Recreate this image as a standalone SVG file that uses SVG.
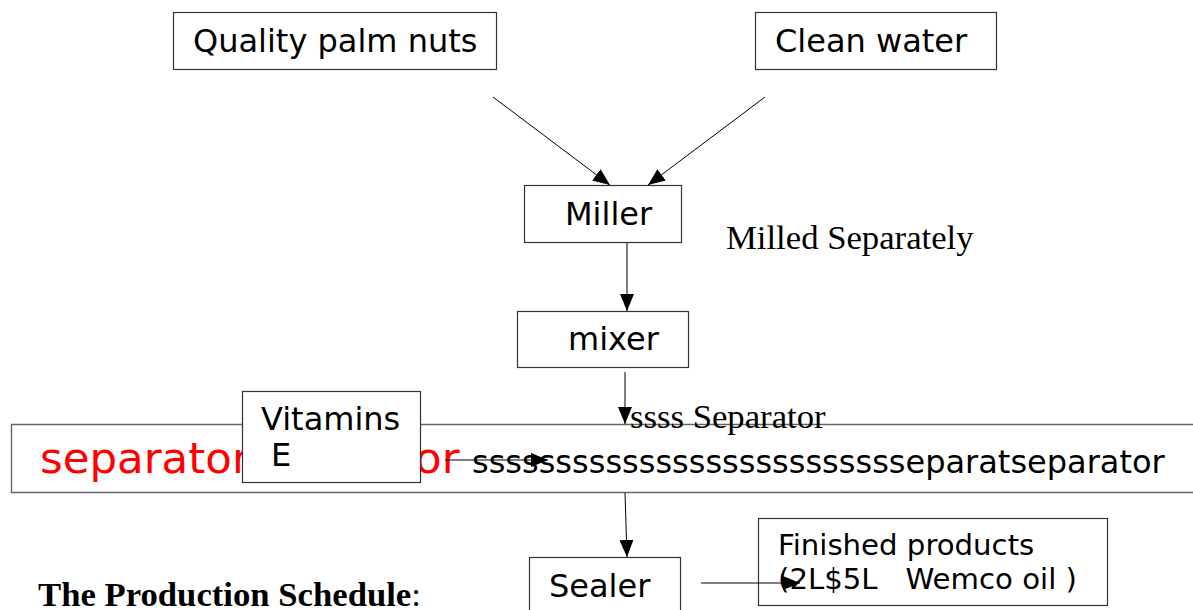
<svg xmlns="http://www.w3.org/2000/svg" width="1193" height="610" viewBox="0 0 1193 610">
<defs>
<style>
.box{fill:#fff;stroke:#333;stroke-width:1.2}
.band{fill:none;stroke:#666;stroke-width:1.4}
.sans{font-family:"DejaVu Sans",sans-serif;font-size:32px;fill:#000}
.serif{font-family:"Liberation Serif",serif;font-size:34.7px;fill:#000}
.red{font-family:"DejaVu Sans",sans-serif;font-size:43.5px;fill:#ff0000}
.conn line{stroke:#000;stroke-width:1;marker-end:url(#ah)}
</style>
<marker id="ah" markerUnits="userSpaceOnUse" markerWidth="18" markerHeight="14" refX="17" refY="7" orient="auto">
<path d="M0,0 L17,7 L0,14 Z" fill="#000"/>
</marker>
</defs>
<rect width="1193" height="610" fill="#fff"/>

<g id="palm-nuts">
<rect class="box" x="173.5" y="12.5" width="323" height="57"/>
<text class="sans" x="193" y="52">Quality palm nuts</text>
</g>
<g id="clean-water">
<rect class="box" x="755.5" y="12.5" width="241" height="57"/>
<text class="sans" x="775" y="52">Clean water</text>
</g>
<g id="miller">
<rect class="box" x="524.5" y="185.5" width="157" height="57"/>
<text class="sans" x="565" y="225">Miller</text>
</g>
<g id="milled-note">
<text class="serif" x="726" y="249">Milled Separately</text>
</g>
<g id="mixer">
<rect class="box" x="517.5" y="311.5" width="171" height="56"/>
<text class="sans" x="568" y="350">mixer</text>
</g>
<g id="separator">
<path class="band" d="M1193,424.5 H11.5 V492.5 H1193"/>
<text class="red" x="40" y="473">separatorseparator</text>
<text class="sans" x="472" y="473">sssssssssssssssssssssssssseparatseparator</text>
</g>
<g id="separator-label">
<text class="serif" x="630" y="428">ssss Separator</text>
</g>
<g id="vitamins">
<rect class="box" x="242.5" y="391.5" width="178" height="91"/>
<text class="sans" x="261" y="430">Vitamins</text>
<text class="sans" x="271" y="466">E</text>
</g>
<g id="sealer">
<rect class="box" x="529.5" y="557.5" width="151" height="60"/>
<text class="sans" x="549" y="597">Sealer</text>
</g>
<g id="finished">
<rect class="box" x="758.5" y="518.5" width="349" height="87"/>
<text class="sans" x="778" y="555" style="font-size:29.2px">Finished products</text>
<text class="sans" x="778" y="589" style="font-size:29.2px" xml:space="preserve">(2L$5L   Wemco oil )</text>
</g>
<g id="title">
<text class="serif" x="38" y="606"><tspan font-weight="bold">The Production Schedule</tspan>:</text>
</g>

<g id="connectors" class="conn">
<line x1="493" y1="97" x2="610" y2="185"/>
<line x1="765" y1="97" x2="648" y2="185"/>
<line x1="627" y1="243" x2="627" y2="311"/>
<line x1="625" y1="372" x2="625" y2="424"/>
<line x1="445" y1="460" x2="548" y2="460"/>
<line x1="625" y1="493" x2="627" y2="557"/>
<line x1="701" y1="583" x2="800" y2="583"/>
</g>
</svg>
